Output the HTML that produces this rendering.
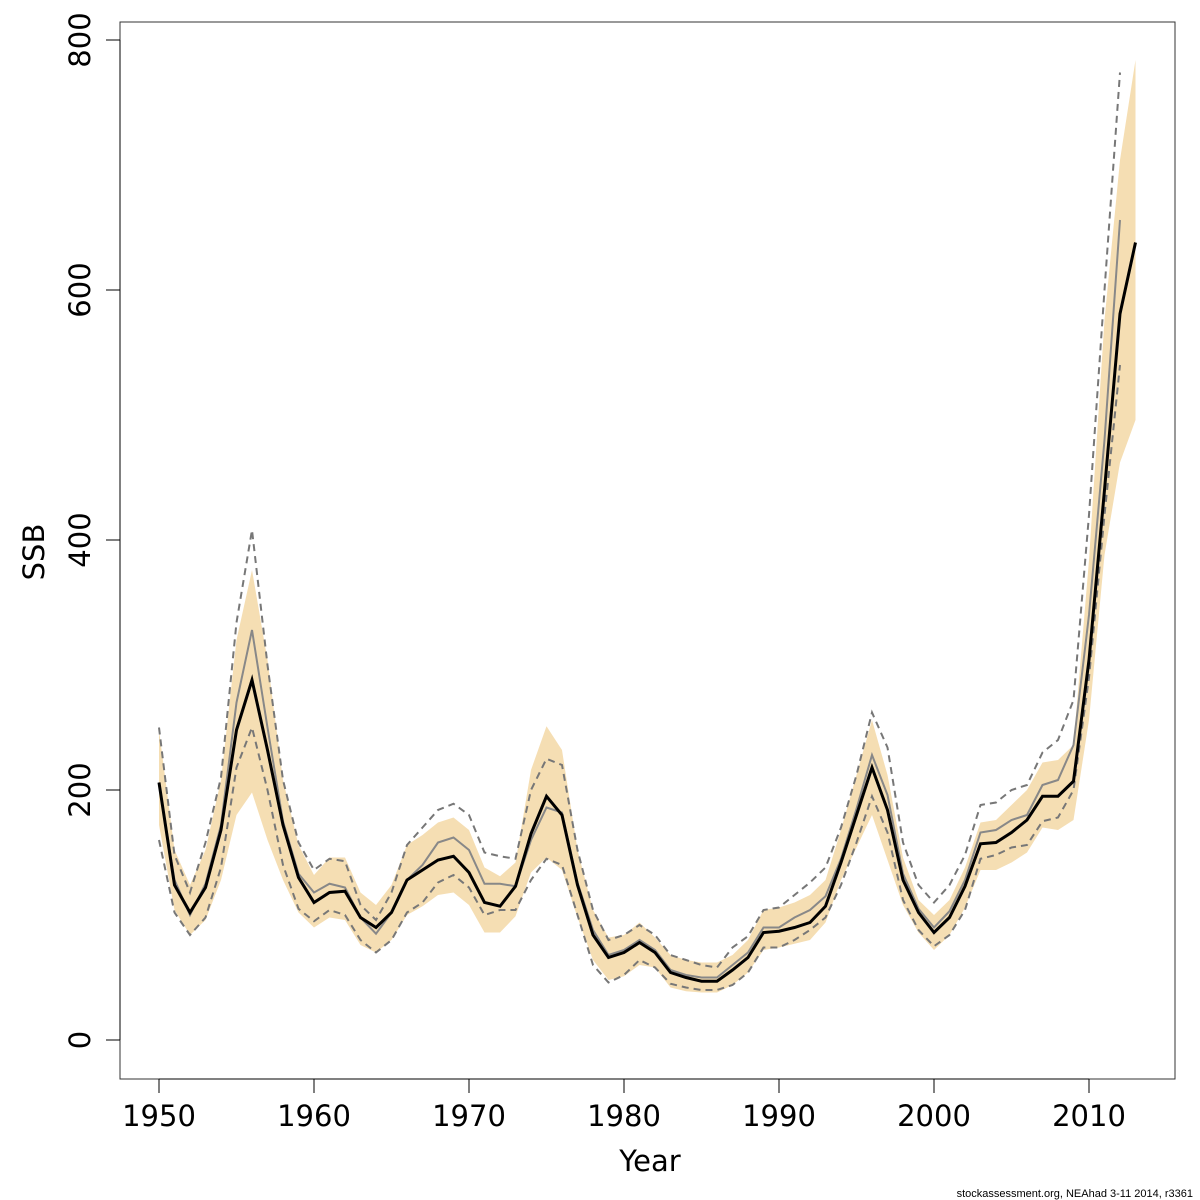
<!DOCTYPE html>
<html><head><meta charset="utf-8"><style>
body{margin:0;background:#fff}
svg{display:block;font-family:"DejaVu Sans","Liberation Sans",sans-serif}
</style></head><body>
<svg id="chart" width="1200" height="1200">
<rect x="120" y="22" width="1055" height="1057" fill="none" stroke="#333" stroke-width="1"/>
<g id="band"></g>
<g id="lines"></g>
<g id="axes"></g>
<text x="650" y="1171" font-size="29" text-anchor="middle">Year</text>
<text x="44" y="552" font-size="29" text-anchor="middle" transform="rotate(-90 44 552)">SSB</text>
<text x="1193" y="1197" font-size="11" text-anchor="end" font-family="Liberation Sans">stockassessment.org, NEAhad  3-11  2014, r3361</text>
</svg>
<script>
const years = []; for (let y = 1950; y <= 2013; y++) years.push(y);
const ssb = [206,124,102,122,168,248,288,232,172,130,110,118,119,98,90,102,128,136,144,147,134,110,107,123,165,195,180,124,84,66,70,78,70,54,50,47,47,56,66,86,87,90,94,107,142,180,218,184,128,102,86,98,123,157,158,166,176,195,195,207,304,440,581,638];
const bandHigh = [248,152,124,152,208,320,376,304,208,156,132,146,146,118,108,124,156,164,174,178,168,138,131,142,216,251,232,152,104,82,84,94,82,68,64,62,62,68,80,104,106,110,116,128,168,212,256,212,146,112,100,112,138,174,176,188,200,222,224,236,384,576,704,784];
const bandLow = [172,104,84,96,128,180,198,160,128,102,90,98,96,76,70,80,100,107,116,118,108,86,86,99,134,146,136,98,64,48,51,60,58,42,39,38,38,44,54,72,74,77,80,94,128,154,180,144,108,86,72,84,106,136,136,142,150,170,168,176,256,388,462,496];
const prevYears = years.slice(0, 63);
const prevSsb = [206,128,100,125,172,270,328,250,175,133,118,125,122,98,85,102,128,140,158,162,152,125,125,123,160,186,182,126,88,68,72,80,72,56,52,50,50,60,70,90,90,98,104,115,145,185,228,196,133,105,90,103,128,166,168,176,180,204,208,236,340,480,656];
const prevHigh = [250,148,118,158,210,334,408,300,208,158,136,145,143,108,96,118,156,170,184,189,180,150,147,145,200,225,220,152,104,80,84,92,84,68,64,60,58,74,83,104,106,116,126,138,170,212,262,234,158,124,110,124,148,188,190,200,204,230,240,272,420,600,774];
const prevLow = [160,102,84,98,138,218,250,200,140,105,95,104,100,80,70,80,102,110,126,132,122,100,104,104,128,145,140,100,60,46,52,64,58,45,42,40,40,44,54,74,74,80,88,98,124,158,195,166,112,88,75,84,104,145,148,154,156,175,178,200,290,420,540];
const xTicks = [1950,1960,1970,1980,1990,2000,2010];
const yTicks = [0,200,400,600,800];

const NS = "http://www.w3.org/2000/svg";
const xs = v => 159 + (v - 1950) * 15.5;
const ys = v => 1040 - v * 1.25;
function mk(tag, parent, attrs){const e=document.createElementNS(NS,tag);for(const k in attrs)e.setAttribute(k,attrs[k]);parent.appendChild(e);return e;}
function pts(xa, ya){return xa.map((x,i)=>xs(x)+","+ys(ya[i])).join(" ");}

const band = document.getElementById('band');
const poly = mk('polygon', band, {points: pts(years, bandHigh) + " " + pts(years.slice().reverse(), bandLow.slice().reverse()), fill:'#f5deb3', stroke:'none'});



const lines = document.getElementById('lines');
const l1 = mk('polyline', lines, {points: pts(prevYears, prevHigh), fill:'none', stroke:'#777', 'stroke-width':2, 'stroke-dasharray':'7,5'});


const l2 = mk('polyline', lines, {points: pts(prevYears, prevLow), fill:'none', stroke:'#777', 'stroke-width':2, 'stroke-dasharray':'7,5'});


const l3 = mk('polyline', lines, {points: pts(prevYears, prevSsb), fill:'none', stroke:'#888', 'stroke-width':2});


const l4 = mk('polyline', lines, {points: pts(years, ssb), fill:'none', stroke:'#000', 'stroke-width':3});



const axes = document.getElementById('axes');
const xa = mk('line', axes, {x1:xs(1950), x2:xs(2010), y1:1079, y2:1079, stroke:'#000'});


xTicks.forEach(t=>{
  const tk = mk('line', axes, {x1:xs(t), x2:xs(t), y1:1079, y2:1093, stroke:'#000'});
  
  
  const tx = mk('text', axes, {x:xs(t), y:1126, 'font-size':29, 'text-anchor':'middle'});
  tx.textContent = t;
  
  
});
const ya = mk('line', axes, {x1:120, x2:120, y1:ys(0), y2:ys(800), stroke:'#000'});


yTicks.forEach(t=>{
  const tk = mk('line', axes, {x1:106, x2:120, y1:ys(t), y2:ys(t), stroke:'#000'});
  
  
  const tx = mk('text', axes, {x:90, y:ys(t), 'font-size':29, 'text-anchor':'middle', transform:'rotate(-90 90 '+ys(t)+')'});
  tx.textContent = t;
  
  
});
</script>
</body></html>
